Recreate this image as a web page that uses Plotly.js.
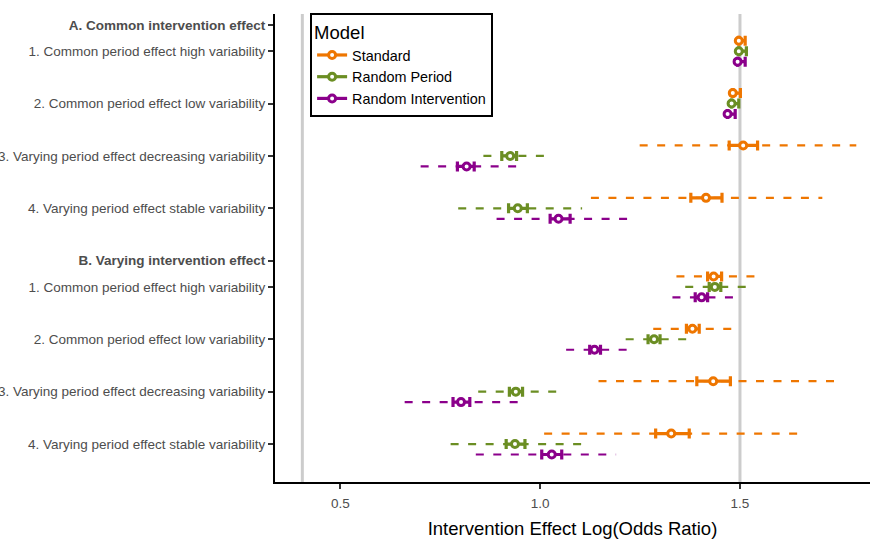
<!DOCTYPE html>
<html>
<head>
<meta charset="utf-8">
<script src="https://cdn.plot.ly/plotly-3.0.1.min.js"></script>
<style>html,body{margin:0;padding:0;background:#fff}#chart{width:870px;height:539px}</style>
</head>
<body>
<div id="chart"></div>
<script>
// ---- Data ----
const groupLabels = ["A. Common intervention effect", "B. Varying intervention effect"];
const scenarioLabels = [
  "1. Common period effect high variability",
  "2. Common period effect low variability",
  "3. Varying period effect decreasing variability",
  "4. Varying period effect stable variability"
];
const models = ["Standard", "Random Period", "Random Intervention"];

// order: A1..A4, B1..B4
const stdEst     = [1.497, 1.482, 1.508, 1.415, 1.434, 1.381, 1.433, 1.328];
const stdInLo    = [1.497, 1.482, 1.473, 1.377, 1.419, 1.366, 1.392, 1.289];
const stdInHi    = [1.513, 1.501, 1.544, 1.455, 1.454, 1.398, 1.476, 1.373];
const stdOutLo   = [1.497, 1.482, 1.249, 1.127, 1.341, 1.283, 1.146, 1.010];
const stdOutHi   = [1.513, 1.501, 1.791, 1.706, 1.540, 1.482, 1.745, 1.652];

const rpEst      = [1.497, 1.479, 0.925, 0.944, 1.437, 1.285, 0.939, 0.937];
const rpInLo     = [1.497, 1.479, 0.904, 0.921, 1.423, 1.270, 0.923, 0.915];
const rpInHi     = [1.516, 1.497, 0.941, 0.968, 1.452, 1.300, 0.956, 0.962];
const rpOutLo    = [1.497, 1.479, 0.858, 0.795, 1.363, 1.214, 0.845, 0.776];
const rpOutHi    = [1.516, 1.497, 1.013, 1.105, 1.518, 1.369, 1.043, 1.106];

const riEst      = [1.494, 1.469, 0.816, 1.046, 1.404, 1.136, 0.802, 1.029];
const riInLo     = [1.494, 1.469, 0.793, 1.025, 1.388, 1.124, 0.782, 1.004];
const riInHi     = [1.513, 1.488, 0.835, 1.075, 1.419, 1.151, 0.824, 1.054];
const riOutLo    = [1.494, 1.469, 0.701, 0.891, 1.331, 1.065, 0.661, 0.839];
const riOutHi    = [1.513, 1.488, 0.944, 1.226, 1.484, 1.219, 0.945, 1.190];

const refLines = [0.405, 1.5];
const xTicks = [0.5, 1.0, 1.5];
const xTickText = ["0.5", "1.0", "1.5"];

// ---- Layout helpers ----
const colors = ["#EE7600", "#6B8E23", "#8B008B"];
const series = [
  {est: stdEst, inLo: stdInLo, inHi: stdInHi, outLo: stdOutLo, outHi: stdOutHi},
  {est: rpEst, inLo: rpInLo, inHi: rpInHi, outLo: rpOutLo, outHi: rpOutHi},
  {est: riEst, inLo: riInLo, inHi: riInHi, outLo: riOutLo, outHi: riOutHi}
];
const offsets = [-0.4, 0, 0.4];

// row positions
const tickVals = [], tickText = [], rowPos = [];
groupLabels.forEach((g, gi) => {
  const base = gi * 9;
  tickVals.push(base); tickText.push("<b>" + g + "</b>");
  scenarioLabels.forEach((s, si) => {
    const p = base + 1 + 2 * si;
    tickVals.push(p); tickText.push(s); rowPos.push(p);
  });
});

const traces = [];
// dashed outer intervals
series.forEach((s, mi) => {
  const xs = [], ys = [];
  s.est.forEach((_, i) => {
    const y = rowPos[i] + offsets[mi];
    xs.push(s.outLo[i], s.outHi[i], null);
    ys.push(y, y, null);
  });
  traces.push({type: "scatter", mode: "lines", x: xs, y: ys, showlegend: false, hoverinfo: "skip",
    line: {color: colors[mi], width: 2.2, dash: "8px,9.5px"}});
});
// inner intervals + points
series.forEach((s, mi) => {
  traces.push({type: "scatter", mode: "markers", showlegend: false,
    x: s.est, y: rowPos.map(p => p + offsets[mi]),
    error_x: {type: "data", symmetric: false,
      array: s.est.map((e, i) => s.inHi[i] - e),
      arrayminus: s.est.map((e, i) => e - s.inLo[i]),
      color: colors[mi], thickness: 3.2, width: 5},
    marker: {symbol: "circle", size: 7, color: "#ffffff", line: {color: colors[mi], width: 3}}
  });
});
// legend entries
models.forEach((m, mi) => {
  traces.push({type: "scatter", mode: "lines+markers", name: m, x: [null], y: [null],
    line: {color: colors[mi], width: 3.2},
    marker: {symbol: "circle", size: 7, color: "#ffffff", line: {color: colors[mi], width: 3}}});
});

const font = "Liberation Sans, Arial, Helvetica, sans-serif";
const layout = {
  width: 870, height: 539,
  margin: {l: 275, r: 0, t: 14, b: 57},
  paper_bgcolor: "#ffffff", plot_bgcolor: "#ffffff",
  font: {family: font, color: "#4d4d4d", size: 13.5},
  xaxis: {
    range: [0.3366, 1.8253], tickvals: xTicks, ticktext: xTickText,
    showgrid: false, zeroline: false, showline: true, linecolor: "#000000", linewidth: 2,
    ticks: "outside", ticklen: 5, tickwidth: 2, tickcolor: "#333333",
    ticklabelstandoff: 3,
    tickfont: {family: font, size: 13.5, color: "#4d4d4d"},
    title: {text: "Intervention Effect Log(Odds Ratio)", font: {family: font, size: 18.5, color: "#000000"}, standoff: 14}
  },
  yaxis: {
    range: [17.45, -0.42], tickvals: tickVals, ticktext: tickText,
    showgrid: false, zeroline: false, showline: true, linecolor: "#000000", linewidth: 2,
    ticks: "outside", ticklen: 5, tickwidth: 2, tickcolor: "#333333",
    tickfont: {family: font, size: 13.5, color: "#4d4d4d"}
  },
  shapes: refLines.map(v => ({type: "line", xref: "x", yref: "paper", x0: v, x1: v, y0: 0, y1: 1,
    line: {color: "#cccccc", width: 3}, layer: "below"})),
  legend: {
    x: 0.059, y: 1.002, xanchor: "left", yanchor: "top",
    bgcolor: "#ffffff", bordercolor: "#000000", borderwidth: 2,
    title: {text: "Model", font: {family: font, size: 18.5, color: "#000000"}},
    font: {family: font, size: 14.4, color: "#000000"},
    itemwidth: 30, tracegroupgap: 0
  },
  showlegend: true
};

Plotly.newPlot("chart", traces, layout, {displayModeBar: false, staticPlot: true});
</script>
</body>
</html>
